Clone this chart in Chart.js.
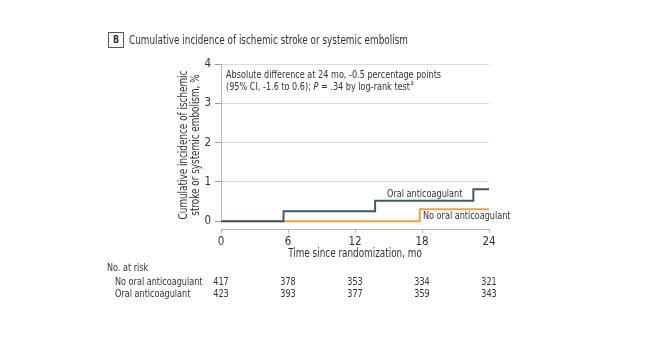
<!DOCTYPE html>
<html>
<head>
<meta charset="utf-8">
<script src="https://cdn.jsdelivr.net/npm/chart.js@4.4.1/dist/chart.umd.min.js"></script>
<style>
  html, body { margin: 0; padding: 0; background: #fff; }
  #wrap { width: 647px; height: 342px; }
</style>
</head>
<body>
<div id="wrap"><canvas id="kmChart" width="647" height="342"></canvas></div>
<script>
// Kaplan-Meier style cumulative incidence, percent
const oacMonths = [0, 5.6, 13.8, 22.6, 24];
const oacIncidence = [0, 0.25, 0.52, 0.81, 0.81];
const noOacMonths = [0, 17.8, 24];
const noOacIncidence = [0, 0.3, 0.3];

const yTicks = [0, 1, 2, 3, 4];
const xTicks = [0, 6, 12, 18, 24];

// number at risk table
const riskMonths = [0, 6, 12, 18, 24];
const riskNoOac = [417, 378, 353, 334, 321];
const riskOac = [423, 393, 377, 359, 343];

const FONT = "'DejaVu Sans Condensed', 'DejaVu Sans', sans-serif";
const BIG = '12px ' + FONT;   // headings and axis titles
const SMALL = '11px ' + FONT; // notes, labels, risk table
const TEXT = '#333333';
const DARK = '#3e5a68';
const ORANGE = '#f0a23e';
const SX = 0.82; // squeeze text horizontally

const toPoints = (xs, ys) => xs.map((x, i) => ({ x: x, y: ys[i] }));

// draw narrowed text, returns its drawn width
function txt(ctx, s, x, y, align) {
    ctx.save();
    ctx.translate(x, y);
    ctx.scale(SX, 1);
    ctx.textAlign = align || 'left';
    ctx.fillText(s, 0, 0);
    const w = ctx.measureText(s).width * SX;
    ctx.restore();
    return w;
}

const extras = {
    id: 'extras',
    afterDatasetsDraw(chart) {
        const { ctx, scales: { x, y } } = chart;
        ctx.save();

        // y axis line, from 0 up to the top of the scale
        ctx.strokeStyle = '#b5b5b5';
        ctx.lineWidth = 1;
        ctx.beginPath();
        ctx.moveTo(x.left + 0.5, y.getPixelForValue(4));
        ctx.lineTo(x.left + 0.5, y.getPixelForValue(0) - 1);
        ctx.stroke();

        // panel letter and heading
        ctx.strokeStyle = '#555';
        ctx.strokeRect(108.5, 32.5, 15, 15);
        ctx.fillStyle = TEXT;
        ctx.textBaseline = 'middle';
        ctx.font = 'bold 11px ' + FONT;
        txt(ctx, 'B', 116, 40.5, 'center');
        ctx.font = BIG;
        txt(ctx, 'Cumulative incidence of ischemic stroke or systemic embolism', 129, 40.5);

        // y axis title
        ctx.save();
        ctx.translate(184, 145);
        ctx.rotate(-Math.PI / 2);
        txt(ctx, 'Cumulative incidence of ischemic', 0, 0, 'center');
        txt(ctx, 'stroke or systemic embolism, %', 0, 12, 'center');
        ctx.restore();

        // x axis title
        txt(ctx, 'Time since randomization, mo', (x.left + x.right) / 2, 254, 'center');

        // annotation
        ctx.font = SMALL;
        txt(ctx, 'Absolute difference at 24 mo, -0.5 percentage points', 226, 75);
        let tx = 226;
        tx += txt(ctx, '(95% CI, -1.6 to 0.6); ', tx, 87);
        ctx.font = 'italic ' + SMALL;
        tx += txt(ctx, 'P', tx, 87);
        ctx.font = SMALL;
        tx += txt(ctx, ' = .34 by log-rank test', tx, 87);
        ctx.font = '7px ' + FONT;
        txt(ctx, 'a', tx + 0.5, 83.5);

        // series labels
        ctx.font = SMALL;
        txt(ctx, 'Oral anticoagulant', 387, 194);
        txt(ctx, 'No oral anticoagulant', 423, 216);

        // number at risk
        txt(ctx, 'No. at risk', 107, 268);
        txt(ctx, 'No oral anticoagulant', 115, 282);
        txt(ctx, 'Oral anticoagulant', 115, 294);
        riskMonths.forEach((m, i) => {
            const px = x.getPixelForValue(m);
            txt(ctx, String(riskNoOac[i]), px, 282, 'center');
            txt(ctx, String(riskOac[i]), px, 294, 'center');
        });
        ctx.restore();
    }
};

new Chart(document.getElementById('kmChart').getContext('2d'), {
    type: 'line',
    data: {
        datasets: [{
            label: 'Oral anticoagulant',
            data: toPoints(oacMonths, oacIncidence),
            borderColor: DARK,
            borderWidth: 2,
            stepped: 'before',
            pointRadius: 0,
            fill: false
        }, {
            label: 'No oral anticoagulant',
            data: toPoints(noOacMonths, noOacIncidence),
            borderColor: ORANGE,
            borderWidth: 2,
            stepped: 'before',
            pointRadius: 0,
            fill: false
        }]
    },
    options: {
        responsive: false,
        animation: false,
        layout: { padding: { left: 0, right: 158, top: 64, bottom: 0 } },
        plugins: {
            legend: { display: false },
            tooltip: { enabled: false }
        },
        scales: {
            x: {
                type: 'linear',
                min: 0,
                max: 24,
                afterBuildTicks: (s) => { s.ticks = xTicks.map(v => ({ value: v })); },
                afterFit: (s) => { s.height = 113; },
                border: { color: '#b5b5b5' },
                grid: { drawOnChartArea: false, tickLength: 4, color: '#b5b5b5' },
                ticks: { color: TEXT, font: { family: FONT, size: 11.5 }, padding: 2, maxRotation: 0 }
            },
            y: {
                min: -0.2,
                max: 4,
                afterBuildTicks: (s) => { s.ticks = yTicks.map(v => ({ value: v })); },
                afterFit: (s) => { s.width = 221; },
                border: { display: false },
                grid: {
                    color: (c) => (c.tick && c.tick.value === 0 ? 'rgba(0,0,0,0)' : '#dcdcdc'),
                    tickColor: '#999',
                    tickLength: 6
                },
                ticks: { color: TEXT, font: { family: FONT, size: 11.5 }, padding: 4 }
            }
        }
    },
    plugins: [extras]
});
</script>
</body>
</html>
